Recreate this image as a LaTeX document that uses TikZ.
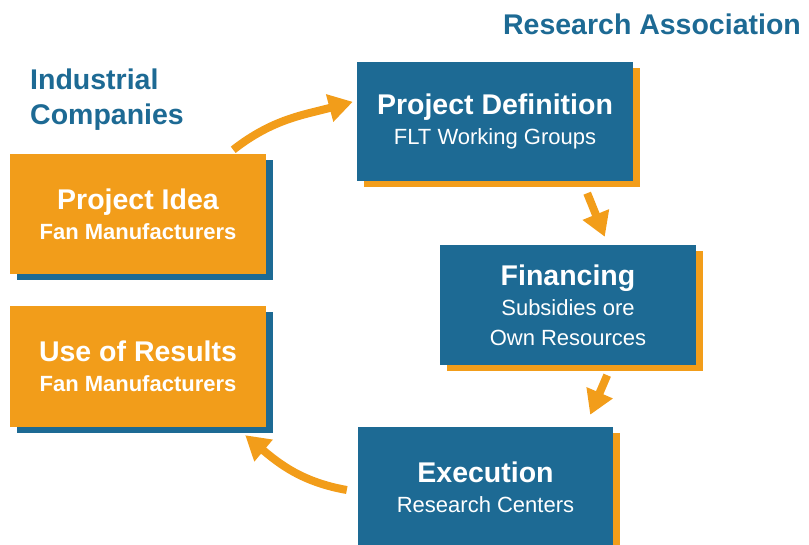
\documentclass[tikz,border=0pt]{standalone}
\usepackage{fontspec}
\setmainfont{Liberation Sans}
\usetikzlibrary{arrows.meta,shadows}

\definecolor{flblue}{RGB}{29,106,148}
\definecolor{florange}{RGB}{242,157,26}
\newcommand{\boxhead}[1]{{\fontsize{28.5}{30}\selectfont\bfseries #1}}

\begin{document}
\begin{tikzpicture}[>={Triangle[length=24pt,width=27pt]},x=1pt,y=1pt,
  stage/.style={text=white,inner sep=0pt,minimum width=256pt,minimum height=120pt,align=center},
  orangebox/.style={stage,fill=florange,font=\fontsize{22}{30}\selectfont\bfseries,
    drop shadow={shadow xshift=7pt,shadow yshift=-6pt,opacity=1,fill=flblue}},
  bluebox/.style={stage,fill=flblue,font=\fontsize{22}{30}\selectfont,
    drop shadow={shadow xshift=7pt,shadow yshift=-6pt,opacity=1,fill=florange}},
  heading/.style={text=flblue,inner sep=0pt,font=\fontsize{28.5}{35}\selectfont\bfseries},
  flow/.style={->,draw=florange,line width=8pt}]
  \useasboundingbox (0,0) rectangle (809,-545);

  \node[heading,align=left,anchor=west] (ind) at (30,-100) {Industrial\\Companies};
  \node[heading,anchor=base] (ra) at (652,-35) {Research Association};

  \node[orangebox] (idea) at (138,-214) {\boxhead{Project Idea}\\Fan Manufacturers};
  \node[orangebox,minimum height=121pt] (use) at (138,-366.5) {\boxhead{Use of Results}\\Fan Manufacturers};
  \node[bluebox,minimum width=276pt,minimum height=119pt] (def) at (495,-121.5) {\boxhead{Project Definition}\\FLT Working Groups};
  \node[bluebox] (fin) at (568,-305) {\boxhead{Financing}\\Subsidies ore\\Own Resources};
  \node[bluebox,minimum width=255pt] (exe) at (485.5,-487) {\boxhead{Execution}\\Research Centers};

  \draw[flow] ([xshift=-33pt,yshift=4pt]idea.north east) to[out=38,in=195] ([xshift=-4pt,yshift=-40pt]def.north west);
  \draw[flow] ([xshift=-46pt,yshift=-12pt]def.south east) -- ([xshift=165pt,yshift=8pt]fin.north west);
  \draw[flow] ([xshift=-89pt,yshift=-10pt]fin.south east) -- ([xshift=-23pt,yshift=12pt]exe.north east);
  \draw[flow] ([xshift=-11pt,yshift=-3pt]exe.west) to[out=170,in=-40] ([xshift=-21pt,yshift=-8pt]use.south east);
\end{tikzpicture}
\end{document}
